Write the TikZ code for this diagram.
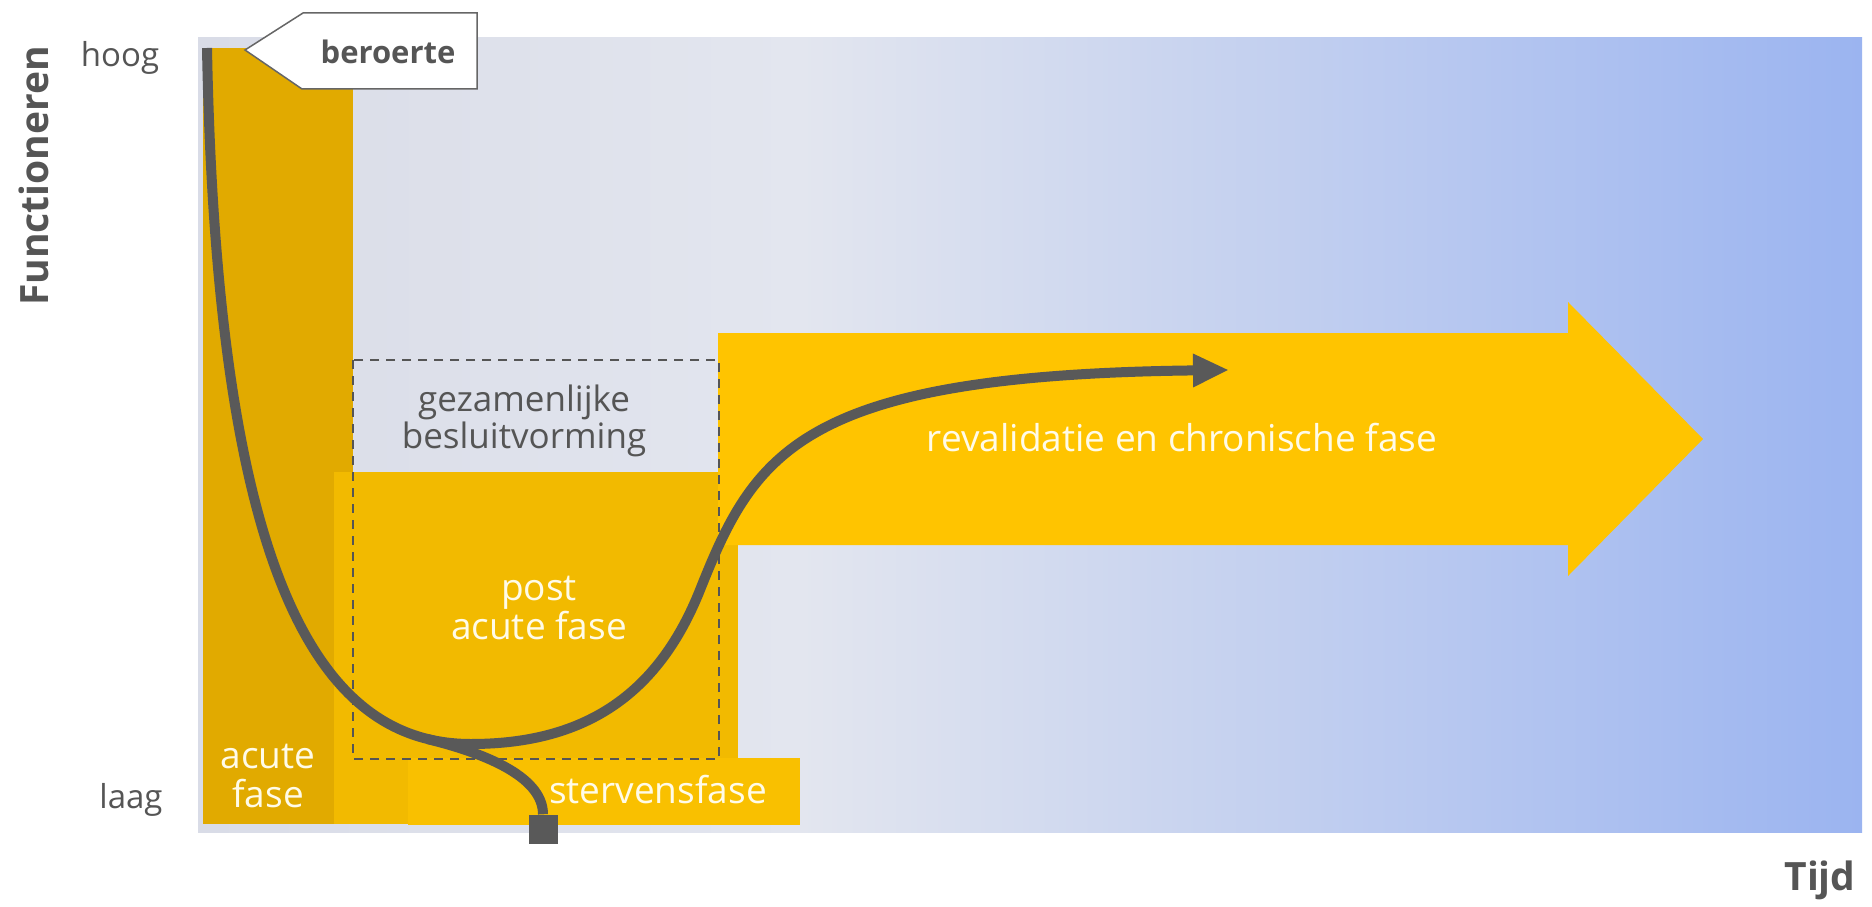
\documentclass[tikz,border=0pt]{standalone}
\usepackage{fontspec}
\setmainfont{Open Sans}
\usetikzlibrary{arrows.meta}
\definecolor{pA}{HTML}{D9DCE7}
\definecolor{pB}{HTML}{E3E6EF}
\definecolor{pC}{HTML}{9BB4F0}
\definecolor{acuteC}{HTML}{E1AA00}
\definecolor{postC}{HTML}{F2BA00}
\definecolor{stervC}{HTML}{F9C000}
\definecolor{arrowC}{HTML}{FFC400}
\definecolor{curveC}{HTML}{595959}
\definecolor{txtC}{HTML}{555555}
\definecolor{wtxt}{HTML}{FFFBE8}
\tikzset{
  whitelabel/.style={text=wtxt, font=\fontsize{37}{39}\selectfont, align=center, inner sep=0pt},
  graylabel/.style={text=txtC, font=\fontsize{35}{37}\selectfont, align=center, inner sep=0pt},
  axislabel/.style={text=txtC, font=\fontsize{33}{36}\selectfont, inner sep=0pt},
  boldlabel/.style={text=txtC, font=\bfseries\fontsize{39}{42}\selectfont, inner sep=0pt},
  curve/.style={draw=curveC, line width=10pt, line join=round},
  sqbox/.style={fill=curveC, minimum size=29pt, inner sep=0pt, draw=none},
  dashbox/.style={draw=txtC, line width=2pt, dash pattern=on 9pt off 7pt},
}
\begin{document}
\begin{tikzpicture}[x=1pt,y=-1pt]
\useasboundingbox (0,0) rectangle (1872,907);
\fill[white] (0,0) rectangle (1872,907);
% background panel
\shade[left color=pA, right color=pB] (198,38) rectangle (800.5,832);
\shade[left color=pB, right color=pC] (800,38) rectangle (1862,832);
% phase blocks
\fill[acuteC] (203,48) rectangle (353,824);
\fill[postC] (334,472) rectangle (738,824);
\fill[stervC] (408,758) rectangle (800,825);
\fill[arrowC] (718,333) -- (1568,333) -- (1568,302) -- (1703,439) -- (1568,576) -- (1568,545) -- (718,545) -- cycle;
% dashed box
\draw[dashbox] (353,360) rectangle (719,759);
% beroerte tag
\draw[fill=white, draw=txtC!90, line width=1.5pt] (245,50) -- (303,13) -- (477,13) -- (477,89) -- (302,89) -- cycle;
\node[text=txtC, font=\bfseries\fontsize{31}{34}\selectfont, inner sep=0pt] (beroerte) at (388,52) {beroerte};
% texts
\node[graylabel] (gezam) at (524,421) {gezamenlijke\\besluitvorming};
\node[whitelabel] (post) at (539,608) {post\\acute fase};
\node[whitelabel] (acute) at (268,776) {acute\\fase};
\node[whitelabel, anchor=base] (sterv) at (658,803) {stervensfase};
\node[whitelabel] (reval) at (1182,438) {revalidatie en chronische fase};
\node[axislabel] (hoog) at (120,58) {hoog};
\node[axislabel] (laag) at (131,800) {laag};
\node[boldlabel, rotate=90] (func) at (34,176) {Functioneren};
\node[boldlabel] (tijd) at (1820,880) {Tijd};
% square end
\node[sqbox] (dead) at (543,829) {};
% coordinates
\coordinate (start) at (207,48);
\coordinate (split) at (427.3,739);
\coordinate (low) at (471,744);
\coordinate (infl) at (700,590);
\coordinate (tip) at (1229,370);
% branch to the square (under the main curve)
\draw[curve] (split) .. controls (480,752) and (543,775) .. (dead.north);
% main curve
\draw[curve, -{Triangle[length=36pt, width=31pt]}] (start)
  .. controls (217,580) and (320,744) .. (low)
  .. controls (590,744) and (660,690) .. (infl)
  .. controls (755,452) and (800,375) .. (tip);
\end{tikzpicture}
\end{document}
